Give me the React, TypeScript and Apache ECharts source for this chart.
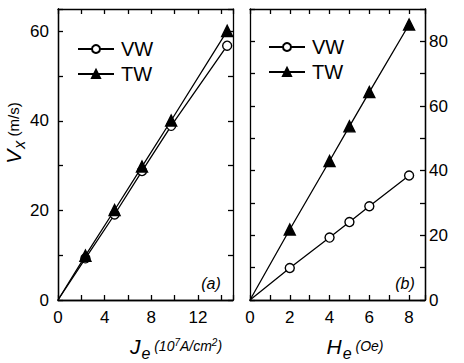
import React, { useEffect, useRef } from "react";
import * as echarts from "echarts";

const jeValues = [0, 2.35, 4.85, 7.2, 9.7, 14.5];
const vwA = [0, 9.3, 19.1, 28.8, 38.9, 56.8];
const twA = [0, 9.9, 20.1, 29.8, 40.1, 60.1];

const heValues = [0, 2, 4, 5, 6, 8];
const vwB = [0, 9.9, 19.3, 24.1, 29.0, 38.5];
const twB = [0, 21.8, 43.0, 53.7, 64.3, 85.2];

const seriesNames = ["VW", "TW"];

const FONT = "Liberation Sans, Arial, Helvetica, sans-serif";

function pts(xs: number[], ys: number[]) {
  return xs.map((x, i) =>
    i === 0 ? { value: [x, ys[i]], symbol: "none" } : [x, ys[i]]
  );
}

export default function App() {
  const ref = useRef<HTMLDivElement>(null);
  useEffect(() => {
    if (!ref.current) return;
    const chart = echarts.init(ref.current, null, { renderer: "svg" });
    const axisLine = () => ({ show: true, onZero: false, lineStyle: { color: "#000", width: 1.3 } });
    const labelAxis = (gi: number, pos: string, max: number, interval: number, step: number, margin: number) => ({
      type: "value",
      gridIndex: gi,
      position: pos,
      min: 0,
      max,
      interval,
      axisLine: axisLine(),
      axisTick: { show: false },
      splitLine: { show: false },
      axisLabel: {
        show: true,
        color: "#000",
        fontSize: 17,
        fontFamily: FONT,
        margin,
        showMaxLabel: false,
        formatter: (v: number) => (Math.abs(v % step) < 1e-9 ? String(v) : ""),
      },
    });
    const frameAxis = (gi: number, pos: string, max: number, interval: number) => ({
      type: "value",
      gridIndex: gi,
      position: pos,
      min: 0,
      max,
      interval,
      axisLine: axisLine(),
      axisTick: { show: false },
      splitLine: { show: false },
      axisLabel: { show: false },
    });
    // tick strips: a thin grid whose split lines act as the inward ticks
    const tickScale = (gi: number, max: number, interval: number) => ({
      type: "value",
      gridIndex: gi,
      min: 0,
      max,
      interval,
      axisLine: { show: false },
      axisTick: { show: false },
      axisLabel: { show: false },
      splitLine: { show: true, lineStyle: { color: "#000", width: 1.3 } },
    });
    const hidden = (gi: number) => ({
      type: "value",
      gridIndex: gi,
      min: 0,
      max: 1,
      axisLine: { show: false },
      axisTick: { show: false },
      axisLabel: { show: false },
      splitLine: { show: false },
    });
    const line = (name: string, xi: number, yi: number, data: any[], sym: string) => ({
      name,
      type: "line",
      xAxisIndex: xi,
      yAxisIndex: yi,
      data,
      symbol: sym,
      symbolSize: sym === "triangle" ? 11 : 9,
      showSymbol: true,
      showAllSymbol: true,
      color: "#000",
      z: 5,
      lineStyle: { color: "#000", width: 1.3, type: "solid" },
      itemStyle: {
        color: sym === "triangle" ? "#000" : "#fff",
        borderColor: "#000",
        borderWidth: 1.4,
        opacity: 1,
      },
    });
    const legend = (left: number, top: number) => ({
      left,
      top,
      orient: "vertical",
      data: seriesNames,
      itemWidth: 36,
      itemHeight: 10,
      itemGap: 5,
      selectedMode: false,
      textStyle: { color: "#000", fontSize: 20, fontFamily: FONT, padding: [0, 0, 0, 2] },
    });

    const T = 5;
    const panels = [
      { left: 58, top: 9, width: 175, height: 291, xMax: 15, xInt: 2, xStep: 4, yMax: 65 },
      { left: 250, top: 9, width: 175, height: 291, xMax: 8.8, xInt: 1, xStep: 2, yMax: 90 },
    ];
    const grids: any[] = [];
    const xAxes: any[] = [];
    const yAxes: any[] = [];
    // grids 0,1: data + labels
    panels.forEach((p, i) => {
      grids.push({ left: p.left, top: p.top, width: p.width, height: p.height });
      xAxes.push(labelAxis(i, "bottom", p.xMax, p.xInt, p.xStep, 9));
      yAxes.push(labelAxis(i, i === 0 ? "left" : "right", p.yMax, 10, 20, i === 0 ? 9 : 4));
    });
    // grids 2,3: frame (mirror lines)
    panels.forEach((p, i) => {
      const gi = grids.length;
      grids.push({ left: p.left, top: p.top, width: p.width, height: p.height });
      xAxes.push(frameAxis(gi, "bottom", p.xMax, p.xInt));
      xAxes.push(frameAxis(gi, "top", p.xMax, p.xInt));
      yAxes.push(frameAxis(gi, "left", p.yMax, 10));
      yAxes.push(frameAxis(gi, "right", p.yMax, 10));
    });
    // tick strips
    panels.forEach((p) => {
      const strips = [
        { left: p.left, top: p.top + p.height - T, width: p.width, height: T, dir: "x" },
        { left: p.left, top: p.top, width: p.width, height: T, dir: "x" },
        { left: p.left, top: p.top, width: T, height: p.height, dir: "y" },
        { left: p.left + p.width - T, top: p.top, width: T, height: p.height, dir: "y" },
      ];
      strips.forEach((s) => {
        const gi = grids.length;
        grids.push({ left: s.left, top: s.top, width: s.width, height: s.height });
        if (s.dir === "x") {
          xAxes.push(tickScale(gi, p.xMax, p.xInt));
          yAxes.push(hidden(gi));
        } else {
          xAxes.push(hidden(gi));
          yAxes.push(tickScale(gi, p.yMax, 10));
        }
      });
    });

    chart.setOption({
      animation: false,
      grid: grids,
      xAxis: xAxes,
      yAxis: yAxes,
      legend: [legend(72, 34), legend(263, 32)],
      series: [
        line(seriesNames[0], 0, 0, pts(jeValues, vwA), "circle"),
        line(seriesNames[1], 0, 0, pts(jeValues, twA), "triangle"),
        line(seriesNames[0], 1, 1, pts(heValues, vwB), "circle"),
        line(seriesNames[1], 1, 1, pts(heValues, twB), "triangle"),
      ],
      graphic: [
        {
          type: "text",
          x: 13,
          y: 133,
          rotation: Math.PI / 2,
          style: {
            text: "{v|V}{s|x}{u| (m/s)}",
            align: "center",
            verticalAlign: "middle",
            fill: "#000",
            rich: {
              v: { fontSize: 21, fontStyle: "italic", fontFamily: FONT, fill: "#000" },
              s: { fontSize: 16, fontStyle: "italic", fontFamily: FONT, fill: "#000", padding: [12, 0, 0, 1] },
              u: { fontSize: 15, fontFamily: FONT, fill: "#000" },
            },
          },
        },
        {
          type: "text",
          x: 176,
          y: 346,
          style: {
            text: "{v|J}{s|e}{u| (10}{p|7}{u|A/cm}{p|2}{u|)}",
            align: "center",
            verticalAlign: "middle",
            fill: "#000",
            rich: {
              v: { fontSize: 21, fontStyle: "italic", fontFamily: FONT, fill: "#000" },
              s: { fontSize: 16, fontStyle: "italic", fontFamily: FONT, fill: "#000", padding: [14, 0, 0, 1] },
              u: { fontSize: 14, fontStyle: "italic", fontFamily: FONT, fill: "#000" },
              p: { fontSize: 10, fontStyle: "italic", fontFamily: FONT, fill: "#000", padding: [0, 0, 8, 0] },
            },
          },
        },
        {
          type: "text",
          x: 355,
          y: 346,
          style: {
            text: "{v|H}{s|e}{u| (Oe)}",
            align: "center",
            verticalAlign: "middle",
            fill: "#000",
            rich: {
              v: { fontSize: 21, fontStyle: "italic", fontFamily: FONT, fill: "#000" },
              s: { fontSize: 16, fontStyle: "italic", fontFamily: FONT, fill: "#000", padding: [14, 0, 0, 1] },
              u: { fontSize: 14, fontStyle: "italic", fontFamily: FONT, fill: "#000" },
            },
          },
        },
        {
          type: "text",
          x: 211,
          y: 283,
          style: { text: "(a)", align: "center", verticalAlign: "middle", fontSize: 16, fontStyle: "italic", fontFamily: FONT, fill: "#000" },
        },
        {
          type: "text",
          x: 405,
          y: 283,
          style: { text: "(b)", align: "center", verticalAlign: "middle", fontSize: 16, fontStyle: "italic", fontFamily: FONT, fill: "#000" },
        },
      ],
    });
    return () => chart.dispose();
  }, []);
  return <div ref={ref} style={{ width: 464, height: 363, position: "absolute", left: 0, top: 0, background: "#fff" }} />;
}
